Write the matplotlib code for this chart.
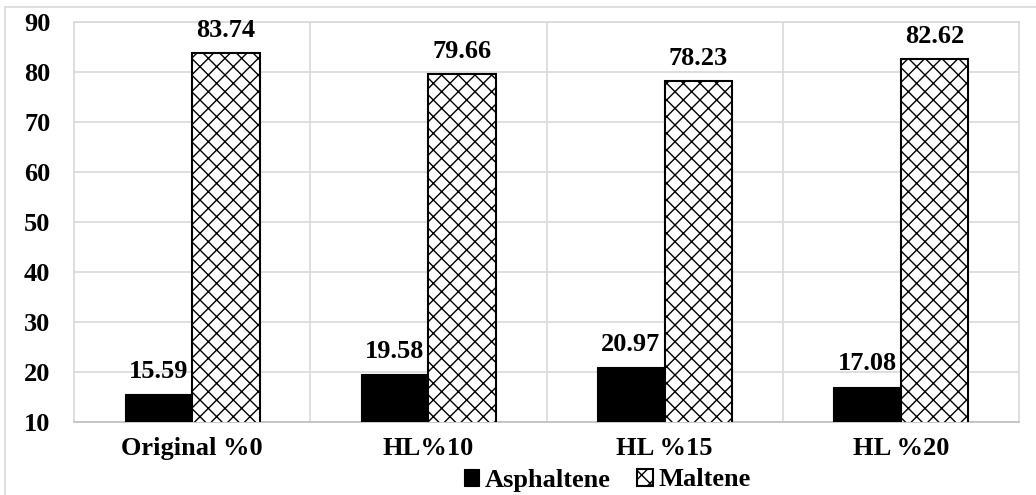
import numpy as np
import matplotlib.pyplot as plt
from matplotlib.lines import Line2D

plt.rcParams['font.family'] = ['Liberation Serif', 'DejaVu Serif']
plt.rcParams['font.weight'] = 'bold'
plt.rcParams['hatch.linewidth'] = 1.0

# 数据
categories = ['Original %0', 'HL%10', 'HL %15', 'HL %20']
asphaltene = [15.59, 19.58, 20.97, 17.08]
maltene = [83.74, 79.66, 78.23, 82.62]
yticks = [10, 20, 30, 40, 50, 60, 70, 80, 90]

fs = 19

fig = plt.figure(figsize=(10.36, 4.95), dpi=100)
ax = fig.add_axes([74 / 1036, 1 - 422 / 495, 945 / 1036, 400 / 495])

x = np.arange(len(categories))
w = 0.286
b1 = ax.bar(x - w / 2, asphaltene, w, color='black', edgecolor='black',
            linewidth=0.8, label='Asphaltene', zorder=3)
b2 = ax.bar(x + w / 2, maltene, w, color='white', edgecolor='black', hatch='xx',
            linewidth=1.5, label='Maltene', zorder=3)

# 柱顶数值
for bars, vals in ((b1, asphaltene), (b2, maltene)):
    for rect, v in zip(bars, vals):
        ax.annotate('%.2f' % v, (rect.get_x() + rect.get_width() / 2, v),
                    xytext=(0, 8), textcoords='offset points', ha='center', va='bottom',
                    fontsize=fs, fontweight='bold')

ax.set_ylim(10, 90)
ax.set_xlim(-0.5, len(categories) - 0.5)
ax.set_yticks(yticks)
ax.set_xticks(x)
ax.set_xticklabels(categories, fontsize=fs, fontweight='bold')
ax.tick_params(axis='y', labelsize=fs, length=0, pad=17)
ax.tick_params(axis='x', length=0, pad=11)
for lab in ax.get_yticklabels():
    lab.set_fontweight('bold')

# 网格线：水平刻度线 + 类别分隔竖线
ax.grid(axis='y', color='#d9d9d9', linewidth=1.2, zorder=0)
for xb in np.arange(0.5, len(categories) - 0.5):
    ax.axvline(xb, color='#d9d9d9', linewidth=1.2, zorder=0)
for s in ax.spines.values():
    s.set_color('#d9d9d9')
    s.set_linewidth(1.2)
ax.spines['bottom'].set_color('#bfbfbf')

# 外框
fig.add_artist(Line2D([5 / 1036, 5 / 1036], [0, 1 - 7 / 495], color='#d9d9d9', lw=1.2))
fig.add_artist(Line2D([5 / 1036, 1], [1 - 7 / 495, 1 - 7 / 495], color='#d9d9d9', lw=1.2))

fig.legend(handles=[b1, b2], loc='center', bbox_to_anchor=(607 / 1036, 1 - 480 / 495),
           ncol=2, frameon=False, fontsize=fs, handlelength=0.6, handleheight=0.6,
           handletextpad=0.2, columnspacing=1.0, borderpad=0)

plt.savefig('out.png', dpi=100)
